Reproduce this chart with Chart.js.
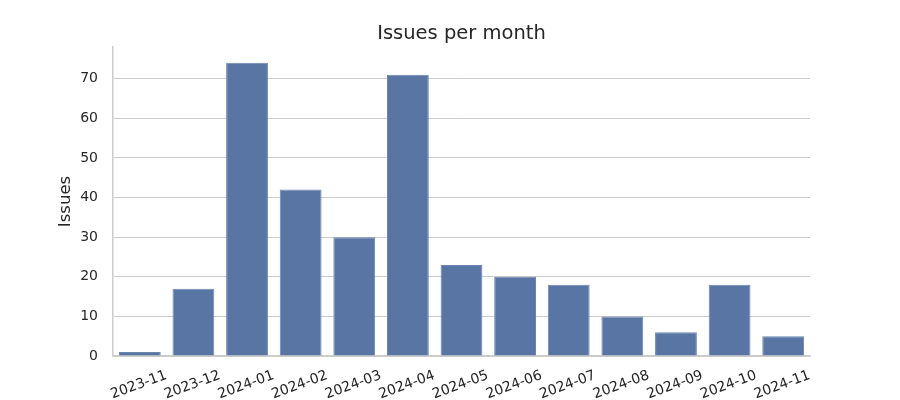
<!DOCTYPE html>
<html><head><meta charset="utf-8">
<script src="https://cdn.jsdelivr.net/npm/chart.js@4/dist/chart.umd.min.js"></script>
<style>html,body{margin:0;padding:0;background:#fff}#wrap{width:900px;height:400px}</style>
</head><body><div id="wrap"><canvas id="c" width="900" height="400"></canvas></div>
<script>
const months = ["2023-11","2023-12","2024-01","2024-02","2024-03","2024-04","2024-05","2024-06","2024-07","2024-08","2024-09","2024-10","2024-11"];
const issues = [1,17,74,42,30,71,23,20,18,10,6,18,5];
const yTicks = [0,10,20,30,40,50,60,70];
const chartTitle = 'Issues per month';

const FONT = "'DejaVu Sans', sans-serif";
const TXT = '#262626';

const customText = {
  id: 'customText',
  afterDraw(chart) {
    const ctx = chart.ctx, xs = chart.scales.x, ca = chart.chartArea;
    ctx.save();
    ctx.fillStyle = TXT;
    ctx.font = '19.5px ' + FONT;
    ctx.textAlign = 'center';
    ctx.textBaseline = 'middle';
    ctx.fillText(chartTitle, (ca.left + ca.right) / 2, 34);
    ctx.font = '14px ' + FONT;
    months.forEach((m, i) => {
      const x = xs.getPixelForTick(i);
      ctx.save();
      ctx.translate(x - 1, ca.bottom + 29);
      ctx.rotate(-20 * Math.PI / 180);
      ctx.fillText(m, 0, 0);
      ctx.restore();
    });
    ctx.restore();
  }
};

new Chart(document.getElementById('c'), {
  type: 'bar',
  data: { labels: months, datasets: [{ label: 'Issues', data: issues,
    backgroundColor: '#5875a4', borderColor: '#6a85b1', borderWidth: 1,
    barPercentage: 0.78, categoryPercentage: 1 }] },
  options: {
    responsive: false, animation: false,
    layout: { padding: { left: 52, right: 90, top: 47, bottom: 0 } },
    plugins: {
      legend: { display: false }, tooltip: { enabled: false },
      title: { display: false }
    },
    scales: {
      x: {
        grid: { display: false },
        border: { display: true, color: '#cccccc', width: 1.5 },
        ticks: { display: false },
        afterFit(s) { s.height = 44; }
      },
      y: {
        min: 0, max: 78,
        afterBuildTicks(s) { s.ticks = yTicks.map(v => ({ value: v })); },
        grid: { color: '#cccccc', lineWidth: 1, drawTicks: false },
        border: { display: true, color: '#cccccc', width: 1.5 },
        ticks: { color: TXT, padding: 15, font: { family: FONT, size: 14 } },
        title: { display: true, text: 'Issues', color: TXT, padding: { top: 4, bottom: 4 },
          font: { family: FONT, size: 16.5 } },
        afterFit(s) { s.width = 61; }
      }
    }
  },
  plugins: [customText]
});
</script></body></html>
